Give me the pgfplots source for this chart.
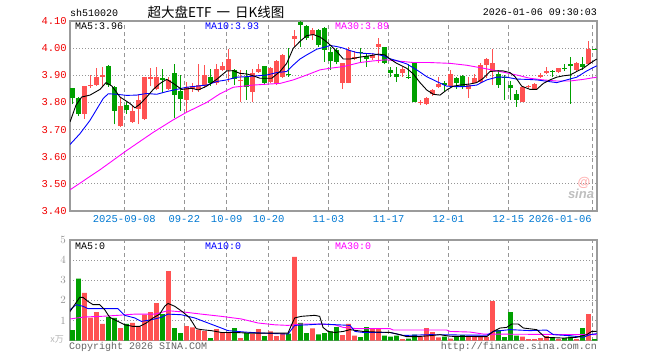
\documentclass[border=0pt]{standalone}
\usepackage{pgfplots}
\pgfplotsset{compat=1.18}
\usepackage{pgfplotstable}
\usepackage{fontspec}
\setmainfont{Liberation Mono}
\newfontfamily\cjk{Noto Sans CJK SC}
\newfontfamily\sansf{Liberation Sans}
\definecolor{cred}{RGB}{255,82,82}
\definecolor{cgreen}{RGB}{0,160,0}
\definecolor{gridc}{RGB}{150,150,150}
\definecolor{framec}{RGB}{155,155,155}
\definecolor{tickred}{RGB}{240,0,0}
\definecolor{dateblue}{RGB}{0,120,210}
\definecolor{mablue}{RGB}{0,0,255}
\definecolor{mamag}{RGB}{255,0,255}
\definecolor{txtgray}{RGB}{100,100,100}
\definecolor{volgray}{RGB}{150,150,150}

\pgfplotstableread{
i o c h l
2 3.758 3.860 3.862 3.740
3 3.860 3.866 3.900 3.855
4 3.864 3.895 3.928 3.862
5 3.894 3.900 3.930 3.860
8 3.712 3.786 3.820 3.710
10 3.728 3.770 3.786 3.725
11 3.777 3.810 3.830 3.720
12 3.740 3.893 3.895 3.735
13 3.888 3.894 3.928 3.860
14 3.849 3.894 3.930 3.845
16 3.849 3.884 3.895 3.845
19 3.810 3.856 3.876 3.765
20 3.848 3.861 3.870 3.840
21 3.845 3.866 3.940 3.840
22 3.860 3.900 3.938 3.855
24 3.872 3.924 3.940 3.865
25 3.920 3.935 3.950 3.915
26 3.918 3.960 3.998 3.876
28 3.878 3.882 3.920 3.800
30 3.839 3.910 3.925 3.800
31 3.913 3.925 3.943 3.910
33 3.876 3.926 3.930 3.872
34 3.868 3.952 3.955 3.865
35 3.895 3.976 3.980 3.890
37 4.033 4.043 4.067 4.003
40 4.049 4.067 4.074 4.030
45 3.873 3.944 3.945 3.850
46 3.873 3.994 4.005 3.870
47 3.960 3.967 3.990 3.955
50 3.963 3.975 3.982 3.955
51 4.006 4.016 4.037 3.945
55 3.907 3.922 3.932 3.895
58 3.800 3.803 3.810 3.790
59 3.794 3.817 3.820 3.790
60 3.830 3.846 3.850 3.825
61 3.856 3.868 3.895 3.852
63 3.860 3.905 3.920 3.856
66 3.848 3.864 3.895 3.818
67 3.873 3.889 3.905 3.870
68 3.876 3.938 3.945 3.872
69 3.938 3.960 3.962 3.890
70 3.914 3.944 3.996 3.864
75 3.802 3.856 3.857 3.800
76 3.858 3.862 3.865 3.855
77 3.848 3.868 3.870 3.846
78 3.893 3.901 3.907 3.890
79 3.907 3.914 3.930 3.904
81 3.911 3.926 3.928 3.908
84 3.920 3.944 3.950 3.915
86 3.942 3.996 4.025 3.940
}\redtab

\pgfplotstableread{
i o c h l
0 3.852 3.817 3.855 3.793
1 3.817 3.757 3.820 3.750
6 3.935 3.864 3.937 3.858
7 3.856 3.768 3.862 3.719
9 3.790 3.771 3.800 3.758
15 3.890 3.882 3.925 3.835
17 3.907 3.827 3.942 3.742
18 3.843 3.811 3.900 3.770
23 3.895 3.872 3.925 3.860
27 3.920 3.886 3.925 3.865
29 3.893 3.858 3.920 3.810
32 3.933 3.872 3.935 3.868
36 3.905 3.900 4.000 3.895
38 4.097 4.087 4.100 4.005
39 4.082 4.036 4.085 4.030
41 4.067 4.012 4.072 4.005
42 4.075 3.993 4.078 3.950
43 3.987 3.952 4.005 3.920
44 3.995 3.950 4.000 3.940
48 3.986 3.982 4.000 3.945
49 3.970 3.960 3.980 3.930
52 4.004 3.944 4.006 3.940
53 3.920 3.907 3.932 3.895
54 3.905 3.893 3.932 3.875
56 3.895 3.890 3.940 3.888
57 3.947 3.802 3.950 3.800
62 3.870 3.864 3.880 3.840
64 3.889 3.870 3.895 3.850
65 3.897 3.856 3.900 3.850
71 3.905 3.864 3.920 3.855
72 3.893 3.889 3.900 3.810
73 3.864 3.852 3.880 3.808
74 3.830 3.809 3.846 3.784
80 3.916 3.912 3.920 3.895
82 3.928 3.924 3.940 3.915
83 3.940 3.936 3.969 3.796
85 3.942 3.932 3.969 3.920
87 3.998 3.994 3.998 3.994
}\greentab

\pgfplotstableread{
px v
70 3.728
76 3.790
81.7 3.820
90 3.827
100 3.848
106 3.873
112 3.860
120 3.820
130 3.796
135 3.780
140 3.794
146.7 3.820
153.3 3.848
160 3.870
166.7 3.885
173.3 3.870
181.7 3.848
191.7 3.852
198.3 3.846
206.7 3.860
216.7 3.885
226.7 3.916
233.3 3.917
240 3.907
246.7 3.905
253.3 3.898
260 3.889
271.7 3.889
280 3.914
286.7 3.944
293.3 4.000
300 4.025
306.7 4.046
313.3 4.050
320 4.041
325 4.028
330 4.012
336.7 3.988
343.3 3.960
350 3.960
360 3.967
370 3.972
378.3 3.978
385 3.975
390 3.960
396.7 3.944
406.7 3.926
413.3 3.905
420 3.873
426.7 3.846
433.3 3.830
440 3.827
446.7 3.846
453.3 3.860
460 3.864
470 3.868
476.7 3.873
483.3 3.889
490 3.914
496.7 3.916
503.3 3.916
510 3.910
515 3.895
521.7 3.860
530 3.848
536.7 3.848
543.3 3.870
550 3.883
556.7 3.893
563.3 3.898
570 3.901
576.7 3.914
583.3 3.926
590 3.944
596.7 3.960
}\maA

\pgfplotstableread{
px v
70 3.645
80 3.685
90 3.734
100 3.795
103.3 3.815
108.3 3.832
116.7 3.830
126.7 3.826
136.7 3.827
146.7 3.833
156.7 3.830
166.7 3.840
176.7 3.848
186.7 3.856
196.7 3.860
206.7 3.864
216.7 3.877
226.7 3.883
236.7 3.893
246.7 3.895
256.7 3.898
266.7 3.901
276.7 3.910
286.7 3.914
293.3 3.938
300 3.960
306.7 3.975
316.7 3.996
325 4.004
330 4.010
336.7 4.006
343.3 4.000
350 3.991
356.7 3.984
363.3 3.981
373.3 3.979
383.3 3.972
388.3 3.963
396.7 3.954
406.7 3.942
416.7 3.920
426.7 3.895
436.7 3.877
446.7 3.860
456.7 3.858
463.3 3.858
476.7 3.864
486.7 3.883
496.7 3.893
506.7 3.893
516.7 3.886
526.7 3.885
536.7 3.883
546.7 3.878
556.7 3.873
566.7 3.883
576.7 3.893
586.7 3.916
596.7 3.935
}\maB

\pgfplotstableread{
px v
70 3.478
100 3.552
126.7 3.623
153.3 3.690
173.3 3.736
186.7 3.764
206.7 3.800
220 3.832
233.3 3.856
253.3 3.864
270 3.868
280 3.870
293.3 3.883
306.7 3.901
320 3.920
330 3.926
343.3 3.932
360 3.947
373.3 3.953
386.7 3.957
396.7 3.953
413.3 3.947
430 3.947
450 3.944
466.7 3.937
483.3 3.926
500 3.914
516.7 3.901
530 3.889
543.3 3.883
556.7 3.879
570 3.879
583.3 3.885
596.7 3.893
}\maC

\pgfplotstableread{
i v
2 2.37
3 1.14
4 1.42
5 0.83
8 0.63
10 0.88
11 0.68
12 1.29
13 1.42
14 1.87
16 3.46
19 0.73
20 0.66
21 0.55
22 0.48
24 0.58
25 0.41
26 0.41
28 0.13
30 0.33
31 0.58
33 0.46
34 0.23
35 0.36
37 4.16
40 0.61
45 0.28
46 0.84
47 0.25
50 0.58
51 0.58
55 0.08
58 0.20
59 0.63
60 0.43
61 0.17
63 0.10
66 0.18
67 0.18
68 0.18
69 0.18
70 1.97
75 0.20
76 0.08
77 0.08
78 0.13
79 0.23
81 0.08
84 0.08
86 1.32
}\volred

\pgfplotstableread{
i v
0 0.53
1 3.08
6 1.18
7 1.13
9 0.84
15 1.32
17 0.63
18 0.38
23 0.13
27 0.63
29 0.38
32 0.23
36 0.35
38 0.88
39 0.38
41 0.31
42 0.38
43 0.46
44 0.68
48 0.18
49 0.68
52 0.25
53 0.20
54 0.25
56 0.10
57 0.30
62 0.20
64 0.18
65 0.28
71 0.53
72 0.18
73 1.42
74 0.25
80 0.18
82 0.13
83 0.20
85 0.63
87 0.08
}\volgreen

\pgfplotstableread{
px v
70 1.45
74.7 1.79
79.7 2.15
83 2.15
88 1.95
93 1.79
99.7 1.79
104.7 1.54
109.7 1.16
118 0.96
124.7 0.79
133 0.71
139.7 0.71
146.3 0.88
153 1.13
159.7 1.32
164.7 1.71
168 1.85
174.7 1.71
183 1.42
189.7 1.13
196.3 0.60
201.3 0.55
211.3 0.50
221.3 0.41
234.7 0.41
248 0.38
288 0.38
291.3 0.76
294.7 1.13
301.3 1.21
314.7 1.26
319.7 1.21
323 0.66
328 0.46
334.7 0.41
343.3 0.46
350 0.55
363.3 0.46
376.7 0.43
390 0.41
400 0.30
406.7 0.20
416.7 0.20
430 0.25
440 0.30
450 0.22
486.7 0.20
493.3 0.46
500 0.63
506.7 0.66
511.7 0.83
518.3 0.83
523.3 0.63
536.7 0.55
545 0.17
563.3 0.13
576.7 0.17
586.7 0.30
591.7 0.46
596.7 0.46
}\vmaA

\pgfplotstableread{
px v
70 1.54
76.3 1.79
83 1.71
88 1.59
118 1.59
124.7 1.26
134.7 1.13
141.3 0.96
151.3 1.04
161.3 1.16
168 1.32
181.3 1.29
194.7 1.13
208 0.88
221.3 0.63
228 0.50
244.7 0.43
261.3 0.38
288 0.33
294.7 0.76
308 0.79
321.3 0.83
350 0.76
355 0.46
363.3 0.41
390 0.41
403.3 0.26
430 0.30
486.7 0.27
493.3 0.46
510 0.55
530 0.50
546.7 0.53
553.3 0.30
570 0.25
583.3 0.17
590 0.30
596.7 0.35
}\vmaB

\pgfplotstableread{
px v
70 1.08
84.7 1.18
101.3 1.21
118 1.26
134.7 1.32
154.7 1.32
168 1.49
184.7 1.42
201.3 1.32
221.3 1.21
241.3 1.08
258 0.88
274.7 0.79
288 0.76
301.3 0.83
318 0.83
334.7 0.79
343.3 0.66
356.7 0.60
390 0.60
393.3 0.53
446.7 0.53
450 0.46
470 0.43
483.3 0.33
596.7 0.30
}\vmaC

\pgfplotsset{
  panel/.style={
    scale only axis, width=527pt, xmin=70, xmax=597,
    enlargelimits=false, clip=true,
    axis line style={draw=framec, line width=1.2pt},
    xtick={124.3,184.3,226.7,268.7,328.3,388.7,448.3,508.3,592.7},
    tick style={draw=none},
  },
  vgrid/.style={gridc, line width=1.2pt, dash pattern=on 4pt off 3pt, forget plot},
  hgrid/.style={gridc, line width=1.2pt, dash pattern=on 1.2pt off 1.8pt, forget plot},
}

\begin{document}
\fontsize{10pt}{12pt}\selectfont
\begin{tikzpicture}[x=1pt,y=1pt]
\path (0,0) rectangle (660,360);

% ===== price panel =====
\begin{axis}[panel, at={(70pt,149pt)}, anchor=south west, height=190pt,
  ymin=3.4, ymax=4.1,
  ytick={3.4,3.5,3.6,3.7,3.8,3.9,4.0,4.1},
  yticklabels={3.40,3.50,3.60,3.70,3.80,3.90,4.00,4.10},
  yticklabel style={text=tickred, font=\fontsize{10.5pt}{12pt}\selectfont, inner sep=1pt, xshift=-2pt},
  xticklabels={2025-09-08,09-22,10-09,10-20,11-03,11-17,12-01,12-15,\makebox[0pt][r]{2026-01-06\hspace{1pt}}},
  xticklabel style={text=dateblue, font=\fontsize{10.5pt}{12pt}\selectfont, yshift=-1pt},
]
\pgfplotsinvokeforeach{124.3,184.3,226.7,268.7,328.3,388.7,448.3,508.3,592.7}{
  \addplot[vgrid] coordinates {(#1,3.4) (#1,4.1)};
}
\pgfplotsinvokeforeach{3.5,3.6,3.7,3.8,3.9,4.0}{
  \addplot[hgrid] coordinates {(70,#1) (597,#1)};
}
\addplot[cred, line width=1pt, quiver={u=0, v=\thisrow{h}-\thisrow{l}}] table[x expr=72.5+6*\thisrow{i}, y=l] {\redtab};
\addplot[cgreen, line width=1pt, quiver={u=0, v=\thisrow{h}-\thisrow{l}}] table[x expr=72.5+6*\thisrow{i}, y=l] {\greentab};
\addplot[cred, line width=4.6pt, quiver={u=0, v=\thisrow{c}-\thisrow{o}}] table[x expr=72.5+6*\thisrow{i}, y=o] {\redtab};
\addplot[cgreen, line width=4.6pt, quiver={u=0, v=\thisrow{c}-\thisrow{o}}] table[x expr=72.5+6*\thisrow{i}, y=o] {\greentab};
\addplot[mamag, line width=0.9pt] table[x=px, y=v] {\maC};
\addplot[mablue, line width=0.9pt] table[x=px, y=v] {\maB};
\addplot[black, line width=0.9pt] table[x=px, y=v] {\maA};
\end{axis}

% ===== volume panel =====
\begin{axis}[panel, at={(70pt,19.3pt)}, anchor=south west, height=100.7pt,
  ymin=0, ymax=5, ytick={1,2,3,4,5},
  yticklabel style={text=volgray, font=\sansf\fontsize{11pt}{12pt}\selectfont, inner sep=1pt, xshift=-3pt},
  xticklabels={},
]
\pgfplotsinvokeforeach{124.3,184.3,226.7,268.7,328.3,388.7,448.3,508.3,592.7}{
  \addplot[vgrid] coordinates {(#1,0) (#1,5)};
}
\pgfplotsinvokeforeach{1,2,3,4}{
  \addplot[hgrid] coordinates {(70,#1) (597,#1)};
}
\addplot[ybar, bar width=4.6, bar shift=0pt, fill=cred, draw=none] table[x expr=72.5+6*\thisrow{i}, y=v] {\volred};
\addplot[ybar, bar width=4.6, bar shift=0pt, fill=cgreen, draw=none] table[x expr=72.5+6*\thisrow{i}, y=v] {\volgreen};
\addplot[mamag, line width=0.9pt] table[x=px, y=v] {\vmaC};
\addplot[mablue, line width=0.9pt] table[x=px, y=v] {\vmaB};
\addplot[black, line width=0.9pt] table[x=px, y=v] {\vmaA};
\end{axis}

\node[anchor=west, inner sep=0pt] at (70,347.5) {sh510020};
\node[anchor=center, inner sep=0pt] at (216,347.5) {\cjk\fontsize{13.5pt}{15pt}\selectfont 超大盘ETF\hspace{5pt}一\hspace{5pt}日K线图};
\node[anchor=east, inner sep=0pt] at (597,347.5) {2026-01-06 09:30:03};

\node[anchor=west, inner sep=0pt] at (75,334) {MA5:3.96};
\node[anchor=west, inner sep=0pt, text=mablue] at (205,334) {MA10:3.93};
\node[anchor=west, inner sep=0pt, text=mamag] at (335,334) {MA30:3.89};

\node[anchor=west, inner sep=0pt] at (75,113.5) {MA5:0};
\node[anchor=west, inner sep=0pt, text=mablue] at (205,113.5) {MA10:0};
\node[anchor=west, inner sep=0pt, text=mamag] at (335,113.5) {MA30:0};

\node[anchor=east, inner sep=0pt, text=volgray!70] at (64,21) {\cjk\fontsize{9pt}{10pt}\selectfont x万};
\node[anchor=west, inner sep=0pt, text=txtgray] at (69,13.5) {Copyright 2026 SINA.COM};
\node[anchor=east, inner sep=0pt, text=txtgray] at (597,13.5) {http://finance.sina.com.cn};

\node[inner sep=0pt, text=red!30] at (584,177) {\sansf\bfseries\fontsize{13pt}{13pt}\selectfont @};
\node[inner sep=0pt, text=gray!50] at (581,166) {\sansf\bfseries\itshape\fontsize{13pt}{13pt}\selectfont sina};
\end{tikzpicture}
\end{document}
